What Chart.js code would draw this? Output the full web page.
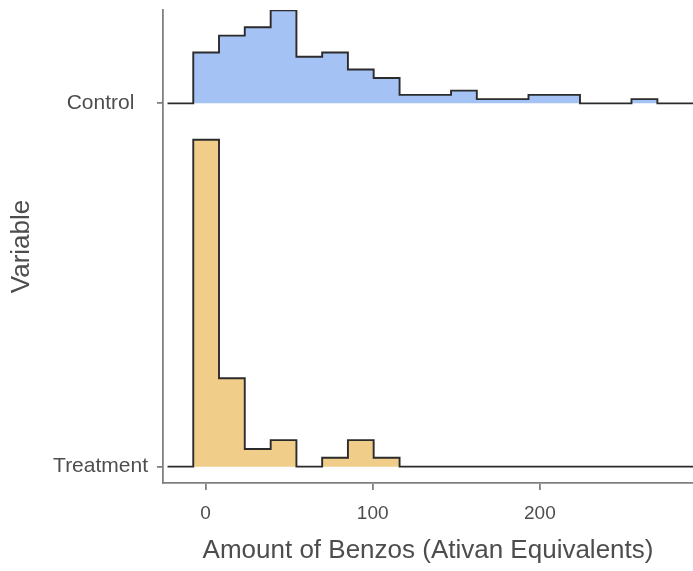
<!DOCTYPE html>
<html><head><meta charset="utf-8">
<script src="https://cdn.jsdelivr.net/npm/chart.js@4/dist/chart.umd.min.js"></script>
<style>html,body{margin:0;padding:0;background:#fff;}</style>
</head><body>
<canvas id="c" width="693" height="571"></canvas>
<script>
// Groups (bottom to top on the y axis)
const groups = ['Treatment', 'Control'];
// Histogram bin edges (incl. one empty pad bin each side + trailing pad)
const binEdges = [-22.7, -7.3, 8.1, 23.5, 39.0, 54.4, 69.8, 85.2, 100.6, 116.1, 131.5,
                  146.9, 162.3, 177.7, 193.2, 208.6, 224.0, 239.4, 254.8, 270.3, 285.7, 301.1];
// Counts per bin (pad bins are zero)
const controlCounts   = [0, 12, 16, 18, 22, 11, 12, 8, 6, 2, 2, 3, 1, 1, 2, 2, 0, 0, 1, 0, 0];
const treatmentCounts = [0, 37, 10, 2, 3, 0, 1, 3, 1, 0, 0, 0, 0, 0, 0, 0, 0, 0, 0, 0, 0];
const xTickValues = [0, 100, 200];
const xTitle = 'Amount of Benzos (Ativan Equivalents)';
const yTitle = 'Variable';

const FONT = "'Liberation Sans', Arial, Helvetica, sans-serif";
const ridgeScale = 0.9;

function density(counts) {
  const n = counts.reduce((a, b) => a + b, 0);
  return counts.map(c => c / n);
}
const dCtrl = density(controlCounts);
const dTrt = density(treatmentCounts);
const maxD = Math.max(...dCtrl, ...dTrt);

function ridge(dens, base) {
  return binEdges.map((e, i) => ({
    x: e,
    y: base + (i < dens.length ? dens[i] / maxD * ridgeScale : 0)
  }));
}

const axisColor = '#808080';

new Chart(document.getElementById('c'), {
  type: 'line',
  data: {
    datasets: [
      {
        label: groups[0],
        data: ridge(dTrt, 1),
        stepped: 'before',
        borderColor: '#2b2b2b',
        borderWidth: 1.9,
        backgroundColor: '#F1CD8A',
        fill: { value: 1 },
        pointRadius: 0
      },
      {
        label: groups[1],
        data: ridge(dCtrl, 2),
        stepped: 'before',
        borderColor: '#2b2b2b',
        borderWidth: 1.9,
        backgroundColor: '#A4C2F4',
        fill: { value: 2 },
        pointRadius: 0
      }
    ]
  },
  options: {
    responsive: false,
    animation: false,
    layout: { padding: { top: 10, right: 0, left: 0, bottom: 0 } },
    plugins: { legend: { display: false }, tooltip: { enabled: false } },
    scales: {
      x: {
        type: 'linear',
        min: -25.4,
        max: 291.6,
        afterBuildTicks: s => { s.ticks = xTickValues.map(v => ({ value: v })); },
        afterFit: s => { s.height = 88; s.paddingLeft = 0; s.paddingRight = 0; },
        grid: { drawOnChartArea: false, drawTicks: true, tickLength: 7, color: axisColor, lineWidth: 1.8 },
        border: { display: true, color: axisColor, width: 1.8 },
        ticks: { font: { size: 19, family: FONT }, color: '#4d4d4d', padding: 12, maxRotation: 0 },
        title: { display: true, text: xTitle, font: { size: 26, family: FONT }, color: '#4d4d4d',
                 padding: { top: 0, bottom: 5 } }
      },
      y: {
        type: 'linear',
        min: 0.955,
        max: 2.257,
        afterBuildTicks: s => { s.ticks = groups.map((g, i) => ({ value: i + 1 })); },
        afterFit: s => { s.width = 163; s.paddingTop = 0; s.paddingBottom = 0; },
        grid: { drawOnChartArea: false, drawTicks: true, tickLength: 6, color: axisColor, lineWidth: 1.8 },
        border: { display: true, color: axisColor, width: 1.8 },
        ticks: {
          callback: v => groups[Math.round(v) - 1],
          crossAlign: 'center',
          padding: 9,
          font: { size: 21, family: FONT },
          color: '#4d4d4d'
        },
        title: { display: true, text: yTitle, font: { size: 26, family: FONT }, color: '#4d4d4d',
                 padding: { top: 6, bottom: 0 } }
      }
    }
  }
});
</script>
</body></html>
